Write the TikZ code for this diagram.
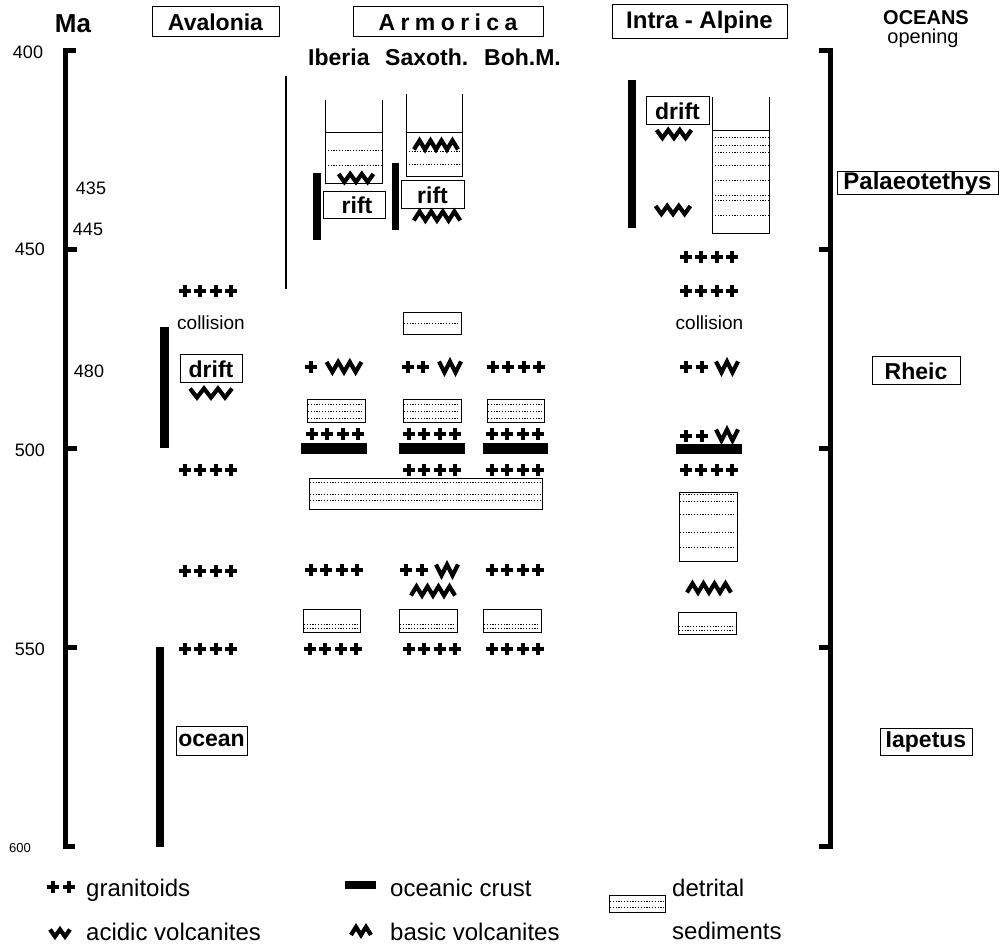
\documentclass[tikz,border=0pt]{standalone}
\usepackage{fontspec}
\setmainfont{Liberation Sans}
\begin{document}
\begin{tikzpicture}[x=1pt,y=-1pt,
  sym/.style={line width=4pt},
  zz/.style={line width=4.2pt, line join=miter, miter limit=20},
  axisl/.style={line width=5pt, line join=miter},
  vbar/.style={line width=8pt},
  thinl/.style={line width=0.9pt},
  dl/.style={line width=0.7pt, dash pattern=on 1.2pt off 1.6pt},
  num/.style={font=\fontsize{18}{20}\selectfont, inner sep=0},
  lbl/.style={font=\fontsize{19}{21}\selectfont, inner sep=0, anchor=base},
  hd/.style={font=\bfseries\fontsize{23}{25}\selectfont, inner sep=0, anchor=base},
  boxed/.style={draw, line width=1pt, font=\bfseries\fontsize{23}{25}\selectfont, inner sep=0},
  sedbox/.style={draw, line width=0.9pt, inner sep=0},
  crust/.style={fill=black, inner sep=0, minimum width=66, minimum height=11},
  leg/.style={font=\fontsize{24}{26}\selectfont, inner sep=0, anchor=base west},
  pics/pp/.style={code={
    \foreach \k in {1,...,#1}{
      \pgfmathsetmacro\cx{(\k-1)*15.5-(#1-1)*7.75}
      \draw[sym] (\cx-6,0) -- (\cx+6,0) (\cx,-6) -- (\cx,6);
    }
  }},
  pics/wz/.style n args={3}{code={
    \draw[zz] ({-#1*#2},{-#3/2}) \foreach \i in {1,...,#1}{ -- ++(#2,#3) -- ++(#2,-#3)};
  }},
  pics/mz/.style n args={3}{code={
    \draw[zz] ({-#1*#2},{#3/2}) \foreach \i in {1,...,#1}{ -- ++(#2,-#3) -- ++(#2,#3)};
  }},
]
\useasboundingbox (0,0) rectangle (1007,949);

% ---------- time axis (left) ----------
\draw[axisl] (76,51) -- (65.5,51) -- (65.5,846) -- (75,846);
\draw[axisl] (65.5,249.5) -- (77,249.5) (65.5,448.5) -- (77,448.5) (65.5,647) -- (77,647);
\node[font=\bfseries\fontsize{26}{28}\selectfont, inner sep=0, anchor=base] (ma) at (73,33) {Ma};
\node[num] (n400) at (28,52) {400};
\node[num] (n450) at (30,249) {450};
\node[num] (n500) at (30,450) {500};
\node[num] (n550) at (30,649) {550};
\node[num, font=\fontsize{13}{14}\selectfont] (n600) at (20,848) {600};
\node[num] (n435) at (91,188) {435};
\node[num] (n445) at (88,229) {445};
\node[num] (n480) at (89,371) {480};

% ---------- oceans bracket (right) ----------
\draw[axisl] (819,51) -- (830,51) -- (830,846) -- (819,846);
\draw[axisl] (819,249.5) -- (830,249.5) (819,448.5) -- (830,448.5) (819,647) -- (830,647);
\node[font=\bfseries\fontsize{20}{22}\selectfont, inner sep=0, anchor=base] (oceans) at (926,25) {OCEANS};
\node[font=\fontsize{20}{22}\selectfont, inner sep=0, anchor=base] (opening) at (923,44) {opening};
\node[boxed, font=\bfseries\fontsize{24}{26}\selectfont, minimum width=161, minimum height=23] (pala) at (917.5,183) {Palaeotethys};
\node[boxed, minimum width=88, minimum height=28] (rheic) at (916,371) {Rheic};
\node[boxed, minimum width=92, minimum height=27] (iapetus) at (926,741.5) {Iapetus};

% ---------- headers ----------
\node[boxed, minimum width=127, minimum height=30] (aval) at (215.5,22) {Avalonia};
\node[boxed, minimum width=190, minimum height=30] (armo) at (448,22) {A\kern5.4pt r\kern5.4pt m\kern5.4pt o\kern5.4pt r\kern5.4pt i\kern5.4pt c\kern5.4pt a};
\node[boxed, font=\bfseries\fontsize{24}{26}\selectfont, minimum width=175, minimum height=34] (intra) at (699.5,22) {Intra - Alpine};
\node[hd, anchor=base west] (iberia) at (308,66) {Iberia};
\node[hd, anchor=base west] (saxoth) at (385,66) {Saxoth.};
\node[hd, anchor=base west] (bohm) at (484,66) {Boh.M.};

% ---------- thin separator ----------
\draw[line width=1.6pt] (286,76) -- (286,289);

% ---------- Iberia upper basin ----------
\draw[thinl] (325,100) -- (325,183) -- (382,183) -- (382,100);
\draw[thinl] (325,132) -- (382,132);
\draw[dl] (325,150) -- (382,150) (325,165) -- (382,165);
\pic at (356,178) {wz={3}{5.8}{8}};
\draw[vbar] (317,173) -- (317,240);
\node[boxed, minimum width=62, minimum height=27] (riftI) at (354,205.5) {\hspace*{6pt}rift};

% ---------- Saxothuringian upper basin ----------
\draw[thinl] (406,94) -- (406,176) -- (462,176) -- (462,94);
\draw[thinl] (406,132) -- (462,132);
\draw[dl] (406,151) -- (462,151) (406,164) -- (462,164);
\pic at (436,145) {mz={4}{5.5}{9}};
\draw[vbar, line width=7pt] (395,163) -- (395,230);
\node[boxed, minimum width=63, minimum height=28] (riftS) at (432.5,195) {rift};
\pic at (437,216) {mz={4}{5.8}{9}};

% ---------- Intra-Alpine upper ----------
\draw[vbar] (632,80) -- (632,228);
\node[boxed, minimum width=63, minimum height=28] (driftI) at (677.5,111) {drift};
\pic at (674,134) {wz={3}{5.8}{8}};
\pic at (673,210) {wz={3}{5.8}{8}};
\draw[thinl] (712,97) -- (712,233) -- (769,233) -- (769,97);
\draw[thinl] (712,130) -- (769,130);
\draw[dl] (712,137) -- (769,137) (712,145) -- (769,145) (712,152) -- (769,152)
          (712,165) -- (769,165) (712,180) -- (769,180) (712,195) -- (769,195)
          (712,200) -- (769,200) (712,215) -- (769,215);
\pic at (709,257) {pp=4};

% ---------- row ~460 Ma ----------
\pic at (208,291) {pp=4};
\pic at (709,291) {pp=4};
\node[lbl] (collA) at (211,330) {collision};
\node[lbl] (collI) at (709.5,330) {collision};
\node[sedbox, minimum width=58, minimum height=22] (sedS1) at (432,323) {};
\draw[dl] (404,323) -- (460,323);

% ---------- Avalonia drift ----------
\draw[vbar, line width=9pt] (164,327) -- (164,448);
\node[boxed, minimum width=62, minimum height=28] (driftA) at (211,369) {drift};
\pic at (211,393) {wz={3}{7}{9}};

% ---------- row ~480 Ma ----------
\pic at (311,367) {pp=1};
\pic at (344,367) {wz={3}{5.8}{10}};
\pic at (415.5,367) {pp=2};
\pic at (450,367) {wz={2}{5.5}{11}};
\pic at (516,367) {pp=4};
\pic at (694,367) {pp=2};
\pic at (727,367) {wz={2}{5.5}{11}};

% ---------- small sediment boxes ~490 Ma ----------
\node[sedbox, minimum width=58, minimum height=23] (sedI2) at (336,410.5) {};
\node[sedbox, minimum width=58, minimum height=23] (sedS2) at (432,410.5) {};
\node[sedbox, minimum width=57, minimum height=23] (sedB2) at (515.5,410.5) {};
\draw[dl] (308,404) -- (364,404) (308,411) -- (364,411) (308,418) -- (364,418)
          (404,404) -- (460,404) (404,411) -- (460,411) (404,418) -- (460,418)
          (488,404) -- (543,404) (488,411) -- (543,411) (488,418) -- (543,418);

% ---------- granitoids + oceanic crust ~500 Ma ----------
\pic at (335,434) {pp=4};
\pic at (432,434) {pp=4};
\pic at (515,434) {pp=4};
\pic at (694,436) {pp=2};
\pic at (727,435) {wz={2}{5.5}{11}};
\node[crust] (crI) at (334,448.5) {};
\node[crust] (crS) at (432,448.5) {};
\node[crust, minimum width=65] (crB) at (515.5,448.5) {};
\node[crust, minimum width=66, minimum height=10] (crA) at (709,449) {};

% ---------- row ~505 Ma ----------
\pic at (208,470) {pp=4};
\pic at (432,470) {pp=4};
\pic at (515,470) {pp=4};
\pic at (709,470) {pp=4};
\node[sedbox, minimum width=233, minimum height=31] (sedLong) at (425.5,493.5) {};
\draw[dl] (310,482) -- (541,482) (310,494) -- (541,494) (310,500) -- (541,500);
\node[sedbox, minimum width=58, minimum height=69] (sedItall) at (708,526.5) {};
\draw[dl] (680,494) -- (736,494) (680,501) -- (736,501) (680,514) -- (736,514)
          (680,532) -- (736,532) (680,547) -- (736,547);

% ---------- row ~530 Ma ----------
\pic at (208,571) {pp=4};
\pic at (334,570) {pp=4};
\pic at (414,570) {pp=2};
\pic at (447,570) {wz={2}{5.5}{11}};
\pic at (515,570) {pp=4};
\pic at (433,591) {mz={4}{5.5}{9}};
\pic at (709,588) {mz={4}{5.5}{9}};

% ---------- small sediment boxes ~543 Ma ----------
\node[sedbox, minimum width=57, minimum height=23] (sedI3) at (331.5,620.5) {};
\node[sedbox, minimum width=58, minimum height=23] (sedS3) at (428,620.5) {};
\node[sedbox, minimum width=58, minimum height=23] (sedB3) at (512,620.5) {};
\node[sedbox, minimum width=58, minimum height=22] (sedA3) at (707,623) {};
\draw[dl] (304,624) -- (359,624) (304,628) -- (359,628)
          (400,624) -- (456,624) (400,628) -- (456,628)
          (484,624) -- (540,624) (484,628) -- (540,628)
          (679,626) -- (735,626) (679,630) -- (735,630);

% ---------- row 550 Ma ----------
\pic at (208,649) {pp=4};
\pic at (333,649) {pp=4};
\pic at (432,649) {pp=4};
\pic at (515,649) {pp=4};

% ---------- Avalonia ocean ----------
\draw[vbar] (160,647) -- (160,847);
\node[boxed, minimum width=71, minimum height=29] (ocean) at (211.5,740.5) {ocean};

% ---------- legend ----------
\pic at (61,887) {pp=2};
\node[leg] (lgran) at (86,896) {granitoids};
\node[fill=black, inner sep=0, minimum width=31, minimum height=8] (lcrust) at (360,885) {};
\node[leg] (locr) at (390,896) {oceanic crust};
\node[sedbox, minimum width=56, minimum height=17] (lsed) at (637.5,904) {};
\draw[dl] (610,901) -- (665,901) (610,907) -- (665,907);
\node[leg] (ldet) at (672,896) {detrital};
\node[leg] (lsedi) at (672,939) {sediments};
\pic at (60,933) {wz={2}{5}{7}};
\node[leg] (lacid) at (86,940) {acidic volcanites};
\pic at (361,931) {mz={2}{5}{8}};
\node[leg] (lbasic) at (390,940) {basic volcanites};
\end{tikzpicture}
\end{document}
